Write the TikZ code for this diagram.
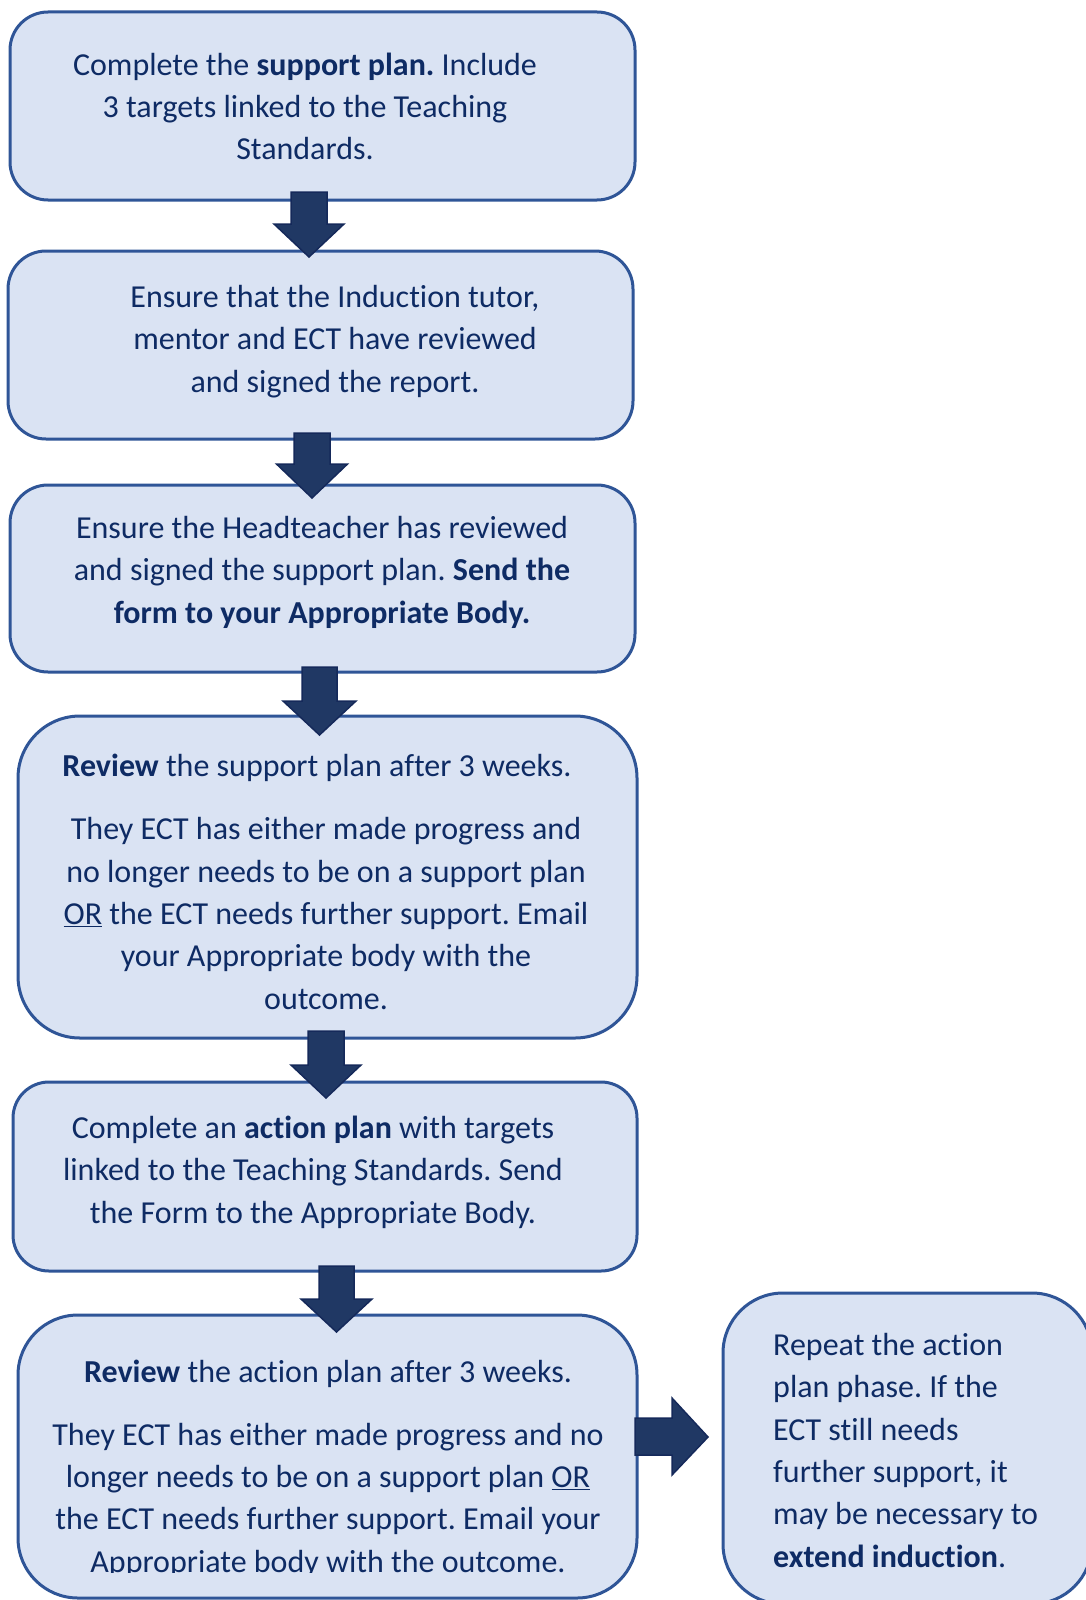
\documentclass[tikz,border=0pt]{standalone}
\usepackage{fontspec}
\setmainfont{Carlito}[Ligatures={NoCommon}]
\frenchspacing
\definecolor{boxfill}{HTML}{DAE3F3}
\definecolor{boxline}{HTML}{2F5597}
\definecolor{txt}{HTML}{0E2B64}
\definecolor{arrfill}{HTML}{203864}
\definecolor{arrline}{HTML}{15295A}
\newcommand\mydnarrow[6]{%
  \draw[blockarrow] (#1-#5,#2) -- (#1+#5,#2) -- (#1+#5,#3) -- (#1+#6,#3) -- (#1,#4) -- (#1-#6,#3) -- (#1-#5,#3) -- cycle;}
\begin{document}
\begin{tikzpicture}[x=1pt,y=-1pt,
  stepbox/.style={draw=boxline, line width=3pt, fill=boxfill, inner sep=0pt},
  steptext/.style={text=txt, font=\fontsize{32}{42.3}\selectfont, inner sep=0pt, align=center, anchor=base},
  blockarrow/.style={fill=arrfill, draw=arrline, line width=1.5pt, line join=miter}]
\clip (0,0) rectangle (1086,1600);
\fill[white] (0,0) rectangle (1086,1600);

% boxes
\node[stepbox, rounded corners=38pt, minimum width=625pt, minimum height=188pt] (b1) at (322.5,106) {};
\node[stepbox, rounded corners=38pt, minimum width=625pt, minimum height=188pt] (b2) at (320.5,345) {};
\node[stepbox, rounded corners=38pt, minimum width=625pt, minimum height=187pt] (b3) at (322.5,578.5) {};
\node[stepbox, rounded corners=62pt, minimum width=619pt, minimum height=322pt] (b4) at (327.5,877) {};
\node[stepbox, rounded corners=36pt, minimum width=624pt, minimum height=189pt] (b5) at (325,1176.5) {};
\node[stepbox, rounded corners=60pt, minimum width=619pt, minimum height=283pt] (b6) at (327.5,1456.5) {};
\node[stepbox, rounded corners=60pt, minimum width=369pt, minimum height=311pt] (b7) at (907.5,1448.5) {};

% texts (anchored at the baseline of their last line)
\node[steptext] (t1) at (305,160) {Complete the \textbf{support plan.} Include\\3 targets linked to the Teaching\\Standards.};
\node[steptext] (t2) at (335,392) {Ensure that the Induction tutor,\\mentor and ECT have reviewed\\and signed the report.};
\node[steptext] (t3) at (322,623) {Ensure the Headteacher has reviewed\\and signed the support plan. \textbf{Send the}\\\textbf{form to your Appropriate Body.}};
\node[steptext] (t4) at (326,1009) {\textbf{Review} the support plan after 3 weeks.\hspace*{18pt}\\[20.7pt]They ECT has either made progress and\\no longer needs to be on a support plan\\\underline{OR} the ECT needs further support. Email\\your Appropriate body with the\\outcome.};
\node[steptext] (t5) at (313,1223) {Complete an \textbf{action plan} with targets\\linked to the Teaching Standards. Send\\the Form to the Appropriate Body.};
\begin{scope}
\clip (0,0) rectangle (1086,1572);
\node[steptext] (t6) at (328,1572) {\textbf{Review} the action plan after 3 weeks.\\[20.7pt]They ECT has either made progress and no\\longer needs to be on a support plan \underline{OR}\\the ECT needs further support. Email your\\Appropriate body with the outcome.};
\end{scope}
\node[steptext, align=left, anchor=base west] (t7) at (773,1567) {Repeat the action\\plan phase. If the\\ECT still needs\\further support, it\\may be necessary to\\\textbf{extend induction}.};

% block arrows between boxes
\mydnarrow{309}{192}{224}{257}{18}{35}
\mydnarrow{312}{433}{464}{498}{18}{35.5}
\mydnarrow{319.5}{667}{701}{735}{17.5}{36.5}
\mydnarrow{326}{1031}{1065}{1098}{18}{35}
\mydnarrow{336.5}{1266}{1299}{1332}{17.5}{35.5}
\draw[blockarrow] (635,1418) -- (672,1418) -- (672,1398) -- (708,1437) -- (672,1475) -- (672,1455) -- (635,1455) -- cycle;
\end{tikzpicture}
\end{document}
